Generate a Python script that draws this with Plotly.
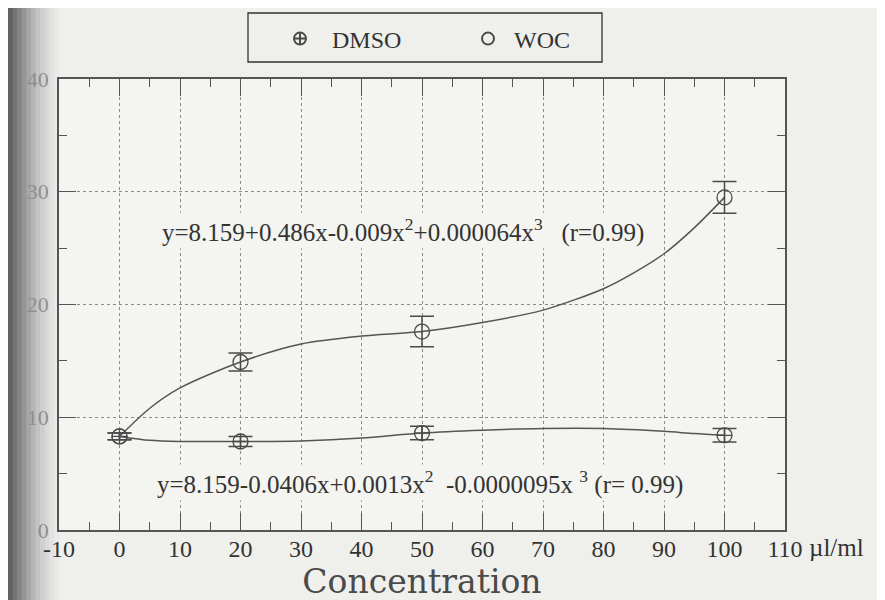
import plotly.graph_objects as go

# ---- data ----
conc = [0, 20, 50, 100]
dmso_mean = [8.3, 7.85, 8.6, 8.4]
dmso_err = [0.3, 0.45, 0.6, 0.6]
woc_mean = [8.3, 14.9, 17.6, 29.5]
woc_err = [0.3, 0.8, 1.35, 1.4]

woc_curve_x = [0, 5, 10, 20, 30, 40, 50, 60, 70, 80, 85, 90, 95, 100]
woc_curve_y = [8.3, 10.8, 12.6, 14.9, 16.5, 17.2, 17.6, 18.4, 19.5, 21.4, 22.8, 24.5, 26.8, 29.5]
dmso_curve_x = [0, 5, 10, 20, 30, 40, 50, 60, 70, 80, 90, 95, 100]
dmso_curve_y = [8.3, 7.95, 7.85, 7.85, 7.9, 8.15, 8.6, 8.85, 9.0, 9.0, 8.75, 8.55, 8.4]

x_ticks = [-10, 0, 10, 20, 30, 40, 50, 60, 70, 80, 90, 100, 110]
x_ticktext = ["-10", "0", "10", "20", "30", "40", "50", "60", "70", "80", "90", "100", "110"]
y_ticks = [0, 10, 20, 30, 40]

eq_woc = "y=8.159+0.486x-0.009x<sup>2</sup>+0.000064x<sup>3</sup>&nbsp;&nbsp;&nbsp;(r=0.99)"
eq_dmso = "y=8.159-0.0406x+0.0013x<sup>2</sup>&nbsp;&nbsp;-0.0000095x&nbsp;<sup>3</sup> (r=&nbsp;0.99)"

FONT = "Liberation Serif"
INK = "#4a4a4a"
PAPER = "#efefec"
PLOT = "#f4f4f1"

# the page body adds an 8px offset; geometry below is given in screen pixels
OFF = 8
SL, SR, ST, SB = 59, 785, 79, 530          # plot box on screen
L, T = SL - OFF, ST - OFF
R, B = 885 - (SR - OFF), 600 - (SB - OFF)
PW, PH = SR - SL, SB - ST


def px_x(p):
    return (p - SL) / PW


def px_y(p):
    return (SB - p) / PH


fig = go.Figure()

fig.add_trace(go.Scatter(x=woc_curve_x, y=woc_curve_y, mode="lines",
                         line=dict(color="#555555", width=1.5, shape="spline", smoothing=0.8),
                         showlegend=False, hoverinfo="skip"))
fig.add_trace(go.Scatter(x=dmso_curve_x, y=dmso_curve_y, mode="lines",
                         line=dict(color="#555555", width=1.5, shape="spline", smoothing=0.8),
                         showlegend=False, hoverinfo="skip"))

fig.add_trace(go.Scatter(x=conc, y=dmso_mean, mode="markers", name="&nbsp;&nbsp;DMSO",
                         marker=dict(symbol="circle-cross-open", size=15,
                                     color=INK, line=dict(width=1.3, color=INK)),
                         error_y=dict(type="data", array=dmso_err, color=INK,
                                      thickness=1.5, width=12)))
fig.add_trace(go.Scatter(x=conc, y=woc_mean, mode="markers", name="&nbsp;WOC",
                         marker=dict(symbol="circle-open", size=15,
                                     color=INK, line=dict(width=1.3, color=INK)),
                         error_y=dict(type="data", array=woc_err, color=INK,
                                      thickness=1.5, width=12)))

# left-edge shading of the photographed page
shade = ["#626262", "#737373", "#848484", "#959595", "#a6a6a6", "#b5b5b5",
         "#c3c3c3", "#cfcfcf", "#d9d9d9", "#e2e2e0", "#e9e9e7"]
shapes = []
for i, c in enumerate(shade):
    shapes.append(dict(type="rect", xref="paper", yref="paper",
                       x0=px_x(OFF + i * 4.6), x1=px_x(OFF + (i + 1) * 4.6 + 0.5),
                       y0=px_y(620), y1=px_y(0),
                       fillcolor=c, line=dict(width=0), layer="below"))
# legend frame
shapes.append(dict(type="rect", xref="paper", yref="paper",
                   x0=px_x(248), x1=px_x(602), y0=px_y(62), y1=px_y(13),
                   line=dict(color="#333333", width=1.3), fillcolor="rgba(0,0,0,0)"))

fig.update_layout(
    width=885, height=600,
    margin=dict(l=L, r=R, t=T, b=B, autoexpand=False),
    paper_bgcolor=PAPER, plot_bgcolor=PLOT,
    font=dict(family=FONT, color="#333333", size=24),
    shapes=shapes,
    showlegend=True,
    legend=dict(orientation="h", x=px_x(280), y=px_y(39), xanchor="left", yanchor="middle",
                borderwidth=0, bgcolor="rgba(0,0,0,0)",
                font=dict(family=FONT, size=24, color="#333333"),
                entrywidth=143, entrywidthmode="pixels",
                itemsizing="constant"),
    annotations=[
        dict(text=eq_woc, x=46.8, y=26.6, xref="x", yref="y", showarrow=False,
             font=dict(family=FONT, size=25, color="#333333"), bgcolor=PLOT),
        dict(text=eq_dmso, x=49.7, y=4.2, xref="x", yref="y", showarrow=False,
             font=dict(family=FONT, size=25, color="#333333"), bgcolor=PLOT),
        dict(text="\u00b5l/ml", x=110, y=0, xref="x", yref="paper", xanchor="left",
             yanchor="top", xshift=22, yshift=-2, showarrow=False,
             font=dict(family=FONT, size=25, color="#333333")),
    ],
)

fig.update_xaxes(range=[-10, 110], tickvals=x_ticks, ticktext=x_ticktext,
                 ticks="inside", ticklen=17, tickwidth=1.3, tickcolor="#555555",
                 minor=dict(dtick=5, ticks="inside", ticklen=8, tickwidth=1.2,
                            tickcolor="#555555", showgrid=False),
                 showline=True, linecolor="#555555", linewidth=1.5, mirror="ticks",
                 showgrid=True, gridcolor="#8a8a8a", gridwidth=1, griddash="dot",
                 zeroline=False, ticklabelstandoff=-4,
                 title=dict(text="Concentration",
                            font=dict(family="DejaVu Serif", size=33, color="#4a4a4a"),
                            standoff=0),
                 tickfont=dict(family=FONT, size=24, color="#333333"))
fig.update_yaxes(range=[0, 40], tickvals=y_ticks,
                 ticks="inside", ticklen=17, tickwidth=1.3, tickcolor="#555555",
                 minor=dict(dtick=5, ticks="inside", ticklen=8, tickwidth=1.2,
                            tickcolor="#555555", showgrid=False),
                 showline=True, linecolor="#555555", linewidth=1.5, mirror="ticks",
                 showgrid=True, gridcolor="#8a8a8a", gridwidth=1, griddash="dot",
                 zeroline=False, ticklabelstandoff=4,
                 tickfont=dict(family=FONT, size=22, color="#8e8e8e"))

fig.write_html("out.html")
